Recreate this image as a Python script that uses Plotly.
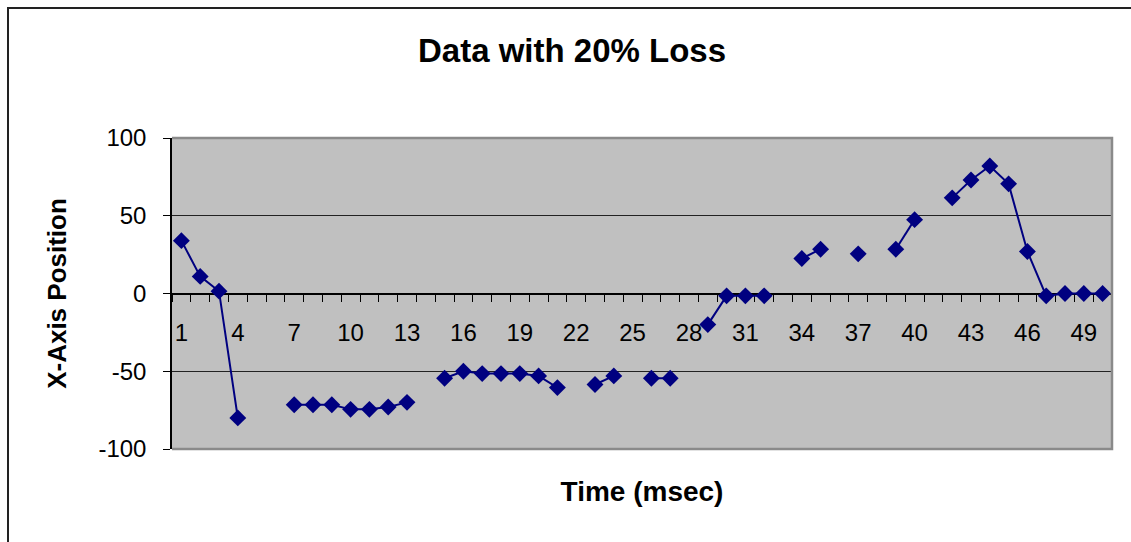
import plotly.graph_objects as go

# Sample index (msec) and measured x-axis position; None marks a lost sample
time_ms = list(range(1, 51))
position = [
    34, 11, 1.5, -80, None, None, -71.5, -71.5, -71.5, -74.5,
    -74.5, -73, -70, None, -54.5, -50, -51.5, -51.5, -51.5, -53,
    -60.5, None, -58.5, -53, None, -54.5, -54.5, None, -20, -1.5,
    -1.5, -1.5, None, 22.5, 28.5, None, 25.5, None, 28.5, 47.5,
    None, 61.5, 73, 82, 70.5, 27, -1.5, 0, 0, 0,
]
x_tick_values = list(range(1, 51, 3))
x_tick_labels = [str(v) for v in x_tick_values]
y_tick_values = [-100, -50, 0, 50, 100]
y_tick_labels = ["-100", "-50", "0", "50", "100"]

W, H = 1131, 542
L, R, T, B = 172, 1112, 138, 449
pw, ph = R - L, B - T

def px_x(p):
    return (p - L) / pw

def px_y(p):
    return (B - p) / ph

FONT = "Arial, Liberation Sans, Helvetica, sans-serif"
NAVY = "#000080"

fig = go.Figure()
fig.add_trace(go.Scatter(
    x=time_ms, y=position, mode="lines+markers",
    line=dict(color=NAVY, width=2),
    marker=dict(symbol="diamond", size=13, color=NAVY),
    connectgaps=False, showlegend=False, xaxis="x", yaxis="y",
))
# empty trace so the axis through zero gets its own subplot layer
fig.add_trace(go.Scatter(x=[], y=[], xaxis="x2", yaxis="y", showlegend=False))

fig.update_layout(
    width=W, height=H,
    margin=dict(l=L, r=W - R, t=T, b=H - B, pad=0),
    paper_bgcolor="white",
    plot_bgcolor="#C0C0C0",
    font=dict(family=FONT, size=24, color="black"),
    title=dict(
        text="<b>Data with 20% Loss</b>",
        font=dict(size=33, family=FONT),
        x=572 / W, xref="container", xanchor="center",
        y=1 - 50 / H, yref="container", yanchor="middle",
    ),
    xaxis=dict(
        range=[0.5, 50.5], showgrid=False, zeroline=False,
        showticklabels=False, ticks="", showline=False,
        title=dict(text="<b>Time (msec)</b>", font=dict(size=28), standoff=32),
    ),
    xaxis2=dict(
        overlaying="x", anchor="free", position=0.5, side="bottom",
        range=[0.5, 50.5], showgrid=False, zeroline=False,
        showline=True, linecolor="black", linewidth=1.5,
        tickmode="array", tickvals=x_tick_values, ticktext=x_tick_labels,
        ticks="outside", ticklen=18, tickcolor="rgba(0,0,0,0)",
        minor=dict(tickmode="linear", tick0=0.5, dtick=1, ticks="outside",
                   ticklen=8, tickcolor="black", tickwidth=1, showgrid=False),
        tickfont=dict(size=24),
        layer="below traces",
    ),
    yaxis=dict(
        range=[-100, 100], tickmode="array",
        tickvals=y_tick_values, ticktext=y_tick_labels,
        showgrid=True, gridcolor="#222222", gridwidth=1, zeroline=False,
        showline=True, linecolor="black", linewidth=1.5,
        ticks="outside", ticklen=7, tickcolor="black",
        ticklabelstandoff=12,
        tickfont=dict(size=24),
        title=dict(text="<b>X-Axis Position</b>", font=dict(size=26), standoff=24),
        layer="below traces",
    ),
    shapes=[
        # gray frame on top, right and bottom of the plot area
        dict(type="path", xref="paper", yref="paper",
             path="M 0,1 L 1,1 L 1,0 L 0,0",
             line=dict(color="#8a8a8a", width=2.5), layer="above"),
        # outer chart border
        dict(type="path", xref="paper", yref="paper",
             path=f"M {px_x(1140)},{px_y(8)} L {px_x(8)},{px_y(8)} L {px_x(8)},{px_y(560)}",
             line=dict(color="#222222", width=2), layer="above"),
    ],
)

fig.write_html("out.html")
